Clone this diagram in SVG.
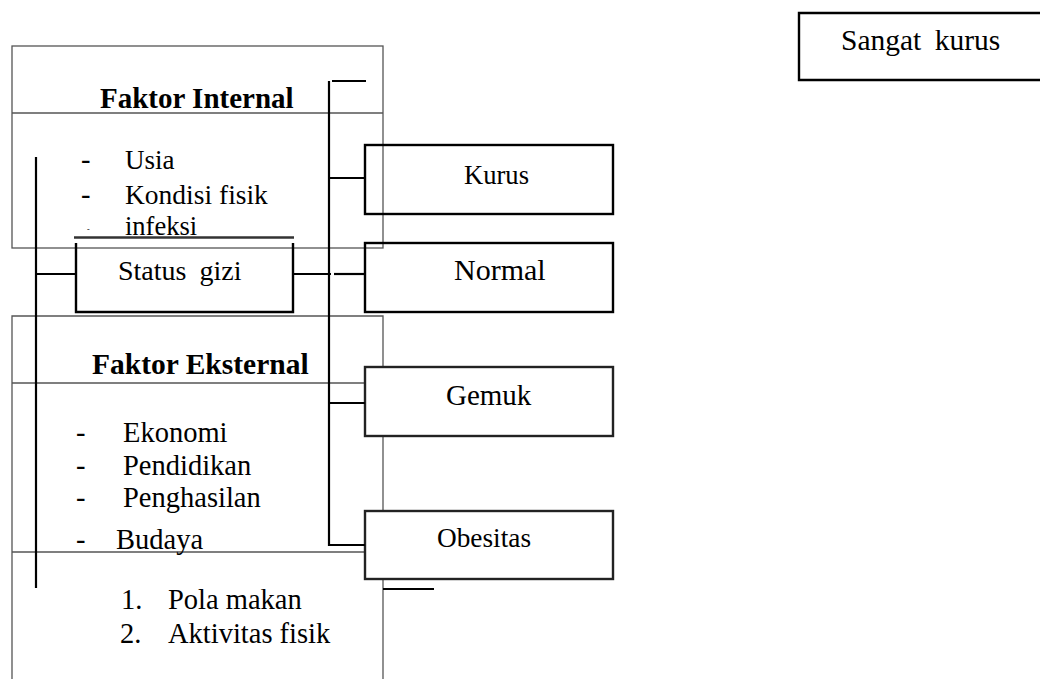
<svg xmlns="http://www.w3.org/2000/svg" width="1040" height="679" viewBox="0 0 1040 679">
<style>
.t{font-family:'Liberation Serif',serif;font-size:28.5px;fill:#000}
.b{font-weight:bold}
.thin{stroke:#555;stroke-width:1.3;fill:none}
.thick{stroke:#000;stroke-width:2.2;fill:none}
.box{stroke:#000;stroke-width:2.4;fill:none}
.boxw{stroke:#222;stroke-width:2.4;fill:#fff}
</style>
<rect width="1040" height="679" fill="#fff"/>
<g id="faktor-internal">
<rect class="thin" x="12" y="46" width="371" height="202"/>
<line class="thin" x1="12" y1="113" x2="383" y2="113"/>
<text class="t b" x="100" y="108" style="font-size:29px">Faktor Internal</text>
<text class="t" x="81" y="169">-</text>
<text class="t" x="125" y="169" style="font-size:27px">Usia</text>
<text class="t" x="81" y="204">-</text>
<text class="t" x="125" y="204" style="font-size:27.5px">Kondisi fisik</text>
<text class="t" x="87" y="232" style="font-size:8px">-</text>
<text class="t" x="125" y="235" style="font-size:26.5px">infeksi</text>
</g>
<g id="faktor-eksternal">
<polyline class="thin" points="12,679 12,316 383,316 383,367"/>
<line class="thin" x1="383" y1="436" x2="383" y2="511"/>
<line class="thin" x1="383" y1="579" x2="383" y2="679"/>
<line class="thin" x1="12" y1="383" x2="365" y2="383"/>
<line class="thin" x1="12" y1="552" x2="365" y2="552"/>
<text class="t b" x="92" y="374" style="font-size:29.5px">Faktor Eksternal</text>
<text class="t" x="76" y="442">-</text>
<text class="t" x="123" y="442">Ekonomi</text>
<text class="t" x="76" y="475">-</text>
<text class="t" x="123" y="475">Pendidikan</text>
<text class="t" x="76" y="507">-</text>
<text class="t" x="123" y="507">Penghasilan</text>
<text class="t" x="76" y="549">-</text>
<text class="t" x="116" y="549">Budaya</text>
<text class="t" x="121" y="609">1.</text>
<text class="t" x="168" y="609">Pola makan</text>
<text class="t" x="120" y="643">2.</text>
<text class="t" x="168" y="643">Aktivitas fisik</text>
</g>
<g id="status-gizi">
<line stroke="#333" stroke-width="2.4" x1="74" y1="237.5" x2="294" y2="237.5"/>
<polyline class="box" points="76,243 76,312 293,312 293,243"/>
<text class="t" x="118" y="280" style="font-size:28px;word-spacing:6px">Status gizi</text>
</g>
<g id="kurus">
<rect class="box" x="365" y="145" width="248" height="69"/>
<text class="t" x="464" y="184" style="font-size:26.6px">Kurus</text>
</g>
<g id="normal">
<rect class="box" x="365" y="243" width="248" height="69"/>
<text class="t" x="454" y="280" style="font-size:30px">Normal</text>
</g>
<g id="gemuk">
<rect class="boxw" x="365" y="367" width="248" height="69"/>
<text class="t" x="446" y="405" style="font-size:29px">Gemuk</text>
</g>
<g id="obesitas">
<rect class="boxw" x="365" y="511" width="248" height="68"/>
<text class="t" x="437" y="547" style="font-size:27.3px">Obesitas</text>
</g>
<g id="sangat-kurus">
<polyline class="box" points="1042,13 799,13 799,80 1042,80"/>
<text class="t" x="841" y="50" style="font-size:29.5px;word-spacing:6px">Sangat kurus</text>
</g>
<g id="connectors">
<line class="thick" x1="36" y1="157" x2="36" y2="588"/>
<line class="thick" x1="36" y1="274" x2="76" y2="274"/>
<line class="thick" x1="293" y1="274" x2="331" y2="274"/>
<line class="thick" x1="334" y1="274" x2="365" y2="274"/>
<polyline class="thick" points="329,81 329,545 365,545"/>
<line class="thick" x1="332" y1="81" x2="366" y2="81"/>
<line class="thick" x1="329" y1="178" x2="365" y2="178"/>
<line class="thick" x1="330" y1="403" x2="365" y2="403"/>
<line class="thick" x1="383" y1="589" x2="434" y2="589"/>
</g>
</svg>
